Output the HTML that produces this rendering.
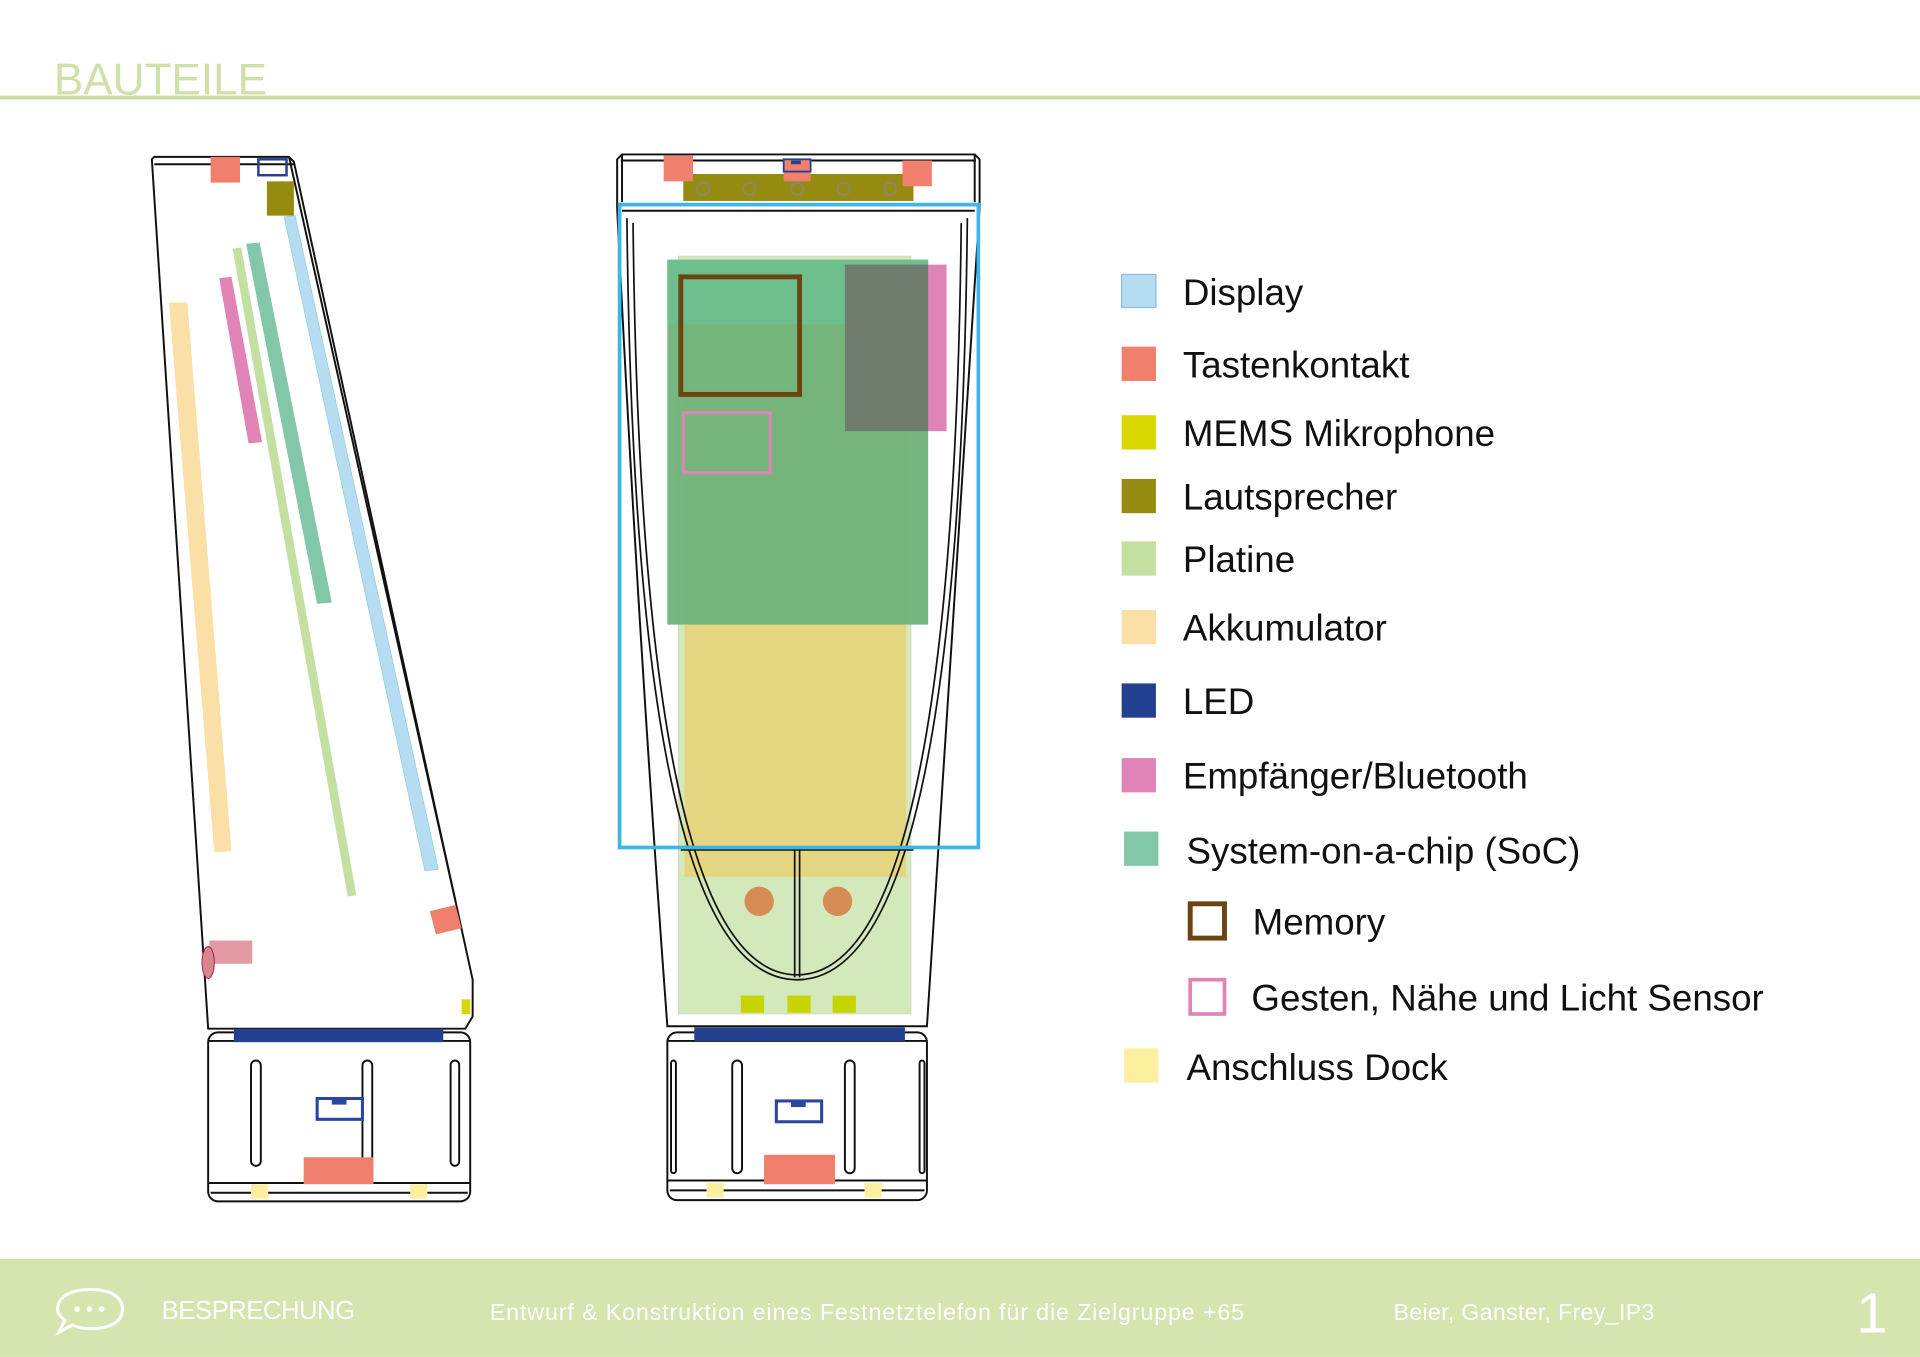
<!DOCTYPE html>
<html><head><meta charset="utf-8"><style>
html,body{margin:0;padding:0;background:#fff}
svg{display:block}
text{font-family:"Liberation Sans",sans-serif}
</style></head><body>
<svg width="1920" height="1357" viewBox="0 0 1568 1108" xmlns="http://www.w3.org/2000/svg">
<rect width="1568" height="1108" fill="#fff"/>
<!-- header -->
<text x="44" y="77" font-size="36" fill="#cfe1a9">BAUTEILE</text>
<line x1="0" y1="79.5" x2="1568" y2="79.5" stroke="#c8dd9e" stroke-width="3"/>

<!-- LEFT DEVICE -->
<g stroke="#111" stroke-width="1.6" fill="none">
<path d="M124,130 L126,128 L236,128 L240,132 L386,800 L386,830 L380,840 L170,840 Z" fill="#fff"/>
<line x1="126" y1="134" x2="240" y2="134"/>
<line x1="236" y1="128" x2="372" y2="736"/>
<rect x="170" y="843" width="214" height="138" rx="8" fill="#fff"/>
<line x1="170" y1="850" x2="384" y2="850"/>
<line x1="170" y1="966" x2="384" y2="966"/>
<line x1="172" y1="974" x2="382" y2="974"/>
<rect x="205" y="866" width="8" height="86" rx="4"/>
<rect x="296" y="866" width="8" height="86" rx="4"/>
<rect x="368" y="866" width="7" height="86" rx="3.5"/>
</g>
<rect x="172" y="128" width="24" height="21" fill="#f07f6e"/>
<rect x="211" y="130" width="23" height="13" fill="none" stroke="#24408e" stroke-width="2"/>
<rect x="218" y="148" width="22" height="28" fill="#948b10"/>
<polygon points="232,177 241,176 358,710 347,711" fill="#b6dcf2" stroke="#8cc" stroke-width="0.5"/>
<polygon points="201,199 212,198 271,492 259,493" fill="#82c8a8"/>
<polygon points="190,203 197,202 291,731 284,732" fill="#c4e0a0"/>
<polygon points="179,227 189,226 214,361 203,362" fill="#e083b6"/>
<polygon points="138,247 153,247 189,695 175,696" fill="#fadfa6"/>
<rect x="171" y="768" width="35" height="19" fill="#e49aa4"/>
<ellipse cx="170" cy="786" rx="5" ry="13" fill="#d98590" stroke="#a24" stroke-width="0.8"/>
<polygon points="351,744 372,739 377,758 356,763" fill="#f07f6e"/>
<rect x="377" y="816" width="7" height="12" fill="#d8d800"/>
<rect x="191" y="840" width="171" height="11" fill="#233f90"/>
<rect x="259" y="897" width="37" height="17" fill="none" stroke="#2a46a0" stroke-width="2.5"/>
<rect x="271" y="897" width="12" height="5" fill="#2a46a0"/>
<rect x="248" y="945" width="57" height="22" fill="#f07f6e"/>
<rect x="205" y="967" width="14" height="12" fill="#fcf0a0"/>
<rect x="335" y="967" width="14" height="12" fill="#fcf0a0"/>

<!-- MIDDLE DEVICE -->
<g stroke="#111" stroke-width="1.6" fill="none">
<path d="M504,130 L508,126 L796,126 L800,130 L800,170 Q780,500 757,838 L545,838 Q520,500 504,170 Z" fill="#fff"/>
<line x1="507" y1="131" x2="797" y2="131"/>
<line x1="508" y1="172" x2="796" y2="172"/>
<line x1="508" y1="126" x2="508" y2="165"/>
<line x1="796" y1="126" x2="796" y2="165"/>
</g>
<!-- components behind -->
<rect x="554" y="209" width="190" height="619" fill="#d3e9bc" stroke="#ccc" stroke-width="0.5"/>
<rect x="559" y="265" width="181" height="451" fill="#e4d680"/>
<rect x="545" y="212" width="213" height="298" fill="#6fb37a" opacity="0.95"/>
<rect x="545" y="212" width="213" height="53" fill="#6ebe8e"/>
<rect x="690" y="216" width="83" height="136" fill="#e083b6"/>
<rect x="690" y="216" width="68" height="136" fill="#6f7d6f"/>
<rect x="556" y="226" width="97" height="96" fill="none" stroke="#6b4411" stroke-width="4"/>
<rect x="558" y="337" width="71" height="49" fill="none" stroke="#e083b6" stroke-width="2.5"/>
<circle cx="620" cy="736" r="12" fill="#d88c55"/>
<circle cx="684" cy="736" r="12" fill="#d88c55"/>
<g stroke="#111" stroke-width="1.4" fill="none">
<path d="M512,178 C516,560 555,800 651,800 C747,800 786,560 790,178"/>
<path d="M517,182 C521,560 560,796 651,796 C742,796 781,560 785,182"/>
<line x1="649" y1="694" x2="649" y2="798"/>
<line x1="653" y1="694" x2="653" y2="798"/>
<line x1="556" y1="694" x2="746" y2="694"/>
</g>
<rect x="605" y="813" width="19" height="14" fill="#c8d400"/>
<rect x="643" y="813" width="19" height="14" fill="#c8d400"/>
<rect x="680" y="813" width="19" height="14" fill="#c8d400"/>
<!-- top -->
<rect x="558" y="142" width="188" height="22" fill="#948b10"/>
<g fill="none" stroke="#8585a0" stroke-width="1"><circle cx="574" cy="154" r="5"/><circle cx="612" cy="154" r="5"/><circle cx="651" cy="154" r="5"/><circle cx="689" cy="154" r="5"/><circle cx="727" cy="154" r="5"/></g>
<rect x="542" y="127" width="24" height="21" fill="#f07f6e"/>
<rect x="737" y="131" width="24" height="21" fill="#f07f6e"/>
<rect x="640" y="130" width="22" height="18" fill="#f07f6e"/>
<rect x="640" y="130" width="22" height="10" fill="none" stroke="#24408e" stroke-width="1.5"/>
<rect x="646" y="131" width="8" height="3" fill="#24408e"/>
<rect x="506" y="167" width="293" height="525" fill="none" stroke="#3fb4e8" stroke-width="3"/>
<!-- base -->
<g stroke="#111" stroke-width="1.6" fill="none">
<rect x="545" y="843" width="212" height="137" rx="8" fill="#fff"/>
<line x1="545" y1="850" x2="757" y2="850"/>
<line x1="545" y1="964" x2="757" y2="964"/>
<line x1="547" y1="972" x2="755" y2="972"/>
<rect x="598" y="866" width="8" height="92" rx="4"/>
<rect x="690" y="866" width="8" height="92" rx="4"/>
<rect x="548" y="866" width="4" height="92" rx="2"/>
<rect x="751" y="866" width="4" height="92" rx="2"/>
</g>
<rect x="567" y="839" width="172" height="11" fill="#233f90"/>
<rect x="634" y="899" width="37" height="17" fill="none" stroke="#2a46a0" stroke-width="2.5"/>
<rect x="646" y="899" width="12" height="5" fill="#2a46a0"/>
<rect x="624" y="943" width="58" height="24" fill="#f07f6e"/>
<rect x="577" y="966" width="14" height="12" fill="#fcf0a0"/>
<rect x="706" y="966" width="14" height="12" fill="#fcf0a0"/>

<!-- LEGEND -->
<g font-size="30" fill="#111">
<rect x="916" y="224" width="28" height="27" fill="#b6dcf2" stroke="#8cbfd8" stroke-width="1"/><text x="966" y="249">Display</text>
<rect x="916" y="283" width="28" height="28" fill="#f07f6e"/><text x="966" y="308">Tastenkontakt</text>
<rect x="916" y="339" width="28" height="28" fill="#d8d800"/><text x="966" y="364">MEMS Mikrophone</text>
<rect x="916" y="391" width="28" height="28" fill="#948b10"/><text x="966" y="416">Lautsprecher</text>
<rect x="916" y="442" width="28" height="28" fill="#c4e0a0"/><text x="966" y="467">Platine</text>
<rect x="916" y="498" width="28" height="28" fill="#fadfa6"/><text x="966" y="523">Akkumulator</text>
<rect x="916" y="558" width="28" height="28" fill="#233f90"/><text x="966" y="583">LED</text>
<rect x="916" y="619" width="28" height="28" fill="#e083b6"/><text x="966" y="644">Empfänger/Bluetooth</text>
<rect x="918" y="679" width="28" height="28" fill="#82c8a8"/><text x="969" y="705">System-on-a-chip (SoC)</text>
<rect x="972" y="738" width="28" height="28" fill="none" stroke="#6b4411" stroke-width="4"/><text x="1023" y="763">Memory</text>
<rect x="972" y="800" width="28" height="28" fill="none" stroke="#e083b6" stroke-width="3"/><text x="1022" y="825">Gesten, Nähe und Licht Sensor</text>
<rect x="918" y="856" width="28" height="28" fill="#fcf0a0"/><text x="969" y="882">Anschluss Dock</text>
</g>

<!-- FOOTER -->
<rect x="0" y="1028" width="1568" height="80" fill="#d4e5b0"/>
<g fill="none" stroke="#fff" stroke-width="2.5">
<path d="M74,1053 C92,1053 100,1060 100,1069 C100,1078 92,1085 74,1085 C68,1085 63,1084 59,1082 L48,1088 L53,1078 C49,1075 47,1072 47,1069 C47,1060 56,1053 74,1053 Z"/>
</g>
<g fill="#fff"><circle cx="63" cy="1069" r="2.3"/><circle cx="73" cy="1069" r="2.3"/><circle cx="83" cy="1069" r="2.3"/></g>
<g fill="#fff" font-size="21">
<text x="132" y="1077" textLength="158">BESPRECHUNG</text>
<text x="400" y="1078" font-size="19" textLength="616">Entwurf &amp; Konstruktion eines Festnetztelefon für die Zielgruppe +65</text>
<text x="1138" y="1078" font-size="19" textLength="213">Beier, Ganster, Frey_IP3</text>
<text x="1516" y="1088" font-size="46">1</text>
</g>
</svg>
</body></html>
